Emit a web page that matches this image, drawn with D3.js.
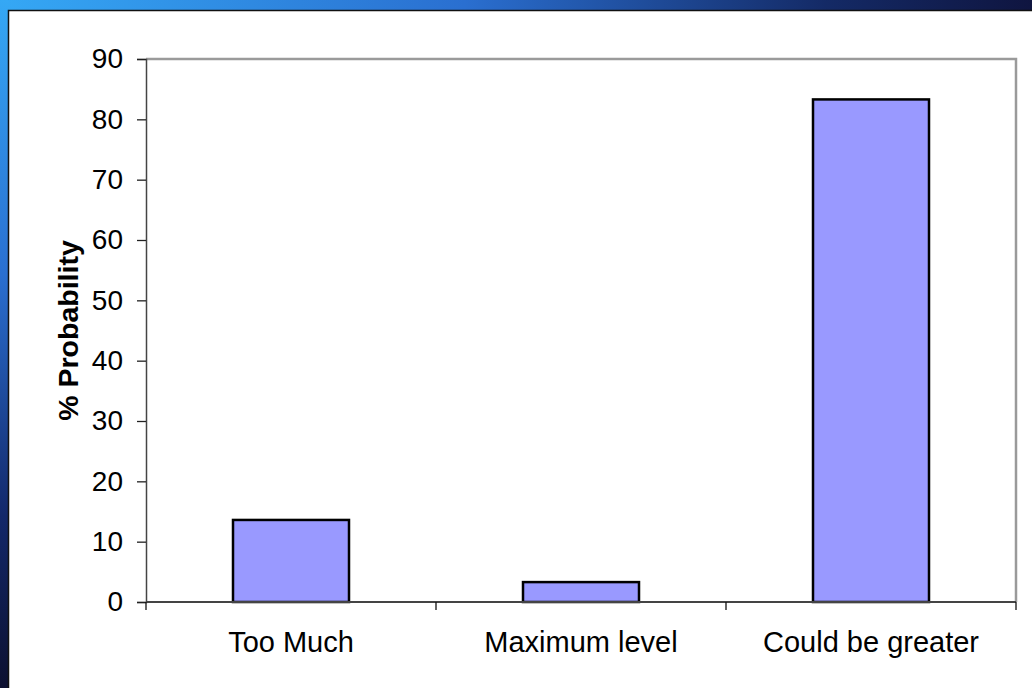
<!DOCTYPE html>
<html>
<head>
<meta charset="utf-8">
<script src="https://cdn.jsdelivr.net/npm/d3@7"></script>
<style>
  body { margin: 0; padding: 0; overflow: hidden; }
  svg { display: block; }
</style>
</head>
<body>
<div id="chart"></div>
<script>
// data
var categories = ["Too Much", "Maximum level", "Could be greater"];
var values = [13.6, 3.3, 83.3];
var yTicks = [0, 10, 20, 30, 40, 50, 60, 70, 80, 90];
var yLabel = "% Probability";

var width = 1032, height = 688;
var plot = {left: 146, top: 59, right: 1016, bottom: 602};

var svg = d3.select("#chart").append("svg")
  .attr("width", width)
  .attr("height", height);

// backdrop gradients
var defs = svg.append("defs");
var gTop = defs.append("linearGradient").attr("id", "gTop")
  .attr("x1", "0").attr("y1", "0").attr("x2", "1").attr("y2", "0");
gTop.append("stop").attr("offset", "0").attr("stop-color", "#35a8f5");
gTop.append("stop").attr("offset", "0.45").attr("stop-color", "#2a6fd0");
gTop.append("stop").attr("offset", "0.8").attr("stop-color", "#142a66");
gTop.append("stop").attr("offset", "1").attr("stop-color", "#0f1540");
var gLeft = defs.append("linearGradient").attr("id", "gLeft")
  .attr("x1", "0").attr("y1", "0").attr("x2", "0").attr("y2", "1");
gLeft.append("stop").attr("offset", "0").attr("stop-color", "#35a8f5");
gLeft.append("stop").attr("offset", "0.4").attr("stop-color", "#2a6fd0");
gLeft.append("stop").attr("offset", "0.75").attr("stop-color", "#13286a");
gLeft.append("stop").attr("offset", "1").attr("stop-color", "#0c1030");

svg.append("rect").attr("x", 0).attr("y", 0).attr("width", width).attr("height", 11)
  .attr("fill", "url(#gTop)");
svg.append("rect").attr("x", 0).attr("y", 0).attr("width", 9).attr("height", height)
  .attr("fill", "url(#gLeft)");

// white panel
svg.append("rect").attr("x", 8.5).attr("y", 10.5)
  .attr("width", width).attr("height", height)
  .attr("fill", "#ffffff").attr("stroke", "#111").attr("stroke-width", 1.5);

var x = d3.scaleBand()
  .domain(categories)
  .range([plot.left, plot.right])
  .paddingInner(0.6)
  .paddingOuter(0.3);

var y = d3.scaleLinear()
  .domain([0, 90])
  .range([plot.bottom, plot.top]);

// plot frame (top and right, grey)
svg.append("path")
  .attr("d", "M" + plot.left + "," + plot.top + "H" + plot.right + "V" + plot.bottom)
  .attr("fill", "none")
  .attr("stroke", "#9a9a9a")
  .attr("stroke-width", 2.5);

// bars
svg.selectAll("rect.bar").data(values).enter().append("rect")
  .attr("class", "bar")
  .attr("x", function(d, i) { return x(categories[i]); })
  .attr("width", x.bandwidth())
  .attr("y", function(d) { return y(d); })
  .attr("height", function(d) { return y(0) - y(d); })
  .attr("fill", "#9999ff")
  .attr("stroke", "#000")
  .attr("stroke-width", 2.5);

// y axis
var yAxis = d3.axisLeft(y).tickValues(yTicks).tickSize(9).tickPadding(14);
var gy = svg.append("g")
  .attr("transform", "translate(" + plot.left + ",0)")
  .call(yAxis);
gy.select(".domain").attr("stroke", "#444").attr("stroke-width", 1.5);
gy.selectAll(".tick line").attr("stroke", "#222").attr("stroke-width", 1.3);
gy.selectAll(".tick text")
  .attr("font-family", "Liberation Sans, Arial, sans-serif")
  .attr("font-size", 28)
  .attr("fill", "#000");

// x axis: ticks at band boundaries
var step = x.step();
var boundaries = [plot.left];
categories.forEach(function(c) { boundaries.push(x(c) - step * 0.3 + step); });
var gx = svg.append("g");
gx.append("line")
  .attr("x1", plot.left).attr("x2", plot.right)
  .attr("y1", plot.bottom).attr("y2", plot.bottom)
  .attr("stroke", "#444").attr("stroke-width", 2);
gx.selectAll("line.tk").data(boundaries).enter().append("line")
  .attr("class", "tk")
  .attr("x1", function(d) { return d; }).attr("x2", function(d) { return d; })
  .attr("y1", plot.bottom).attr("y2", plot.bottom + 8)
  .attr("stroke", "#111").attr("stroke-width", 1.3);
gx.selectAll("text").data(categories).enter().append("text")
  .attr("x", function(d) { return x(d) + x.bandwidth() / 2; })
  .attr("y", 652)
  .attr("text-anchor", "middle")
  .attr("font-family", "Liberation Sans, Arial, sans-serif")
  .attr("font-size", 29)
  .attr("fill", "#000")
  .text(function(d) { return d; });

// y label
svg.append("text")
  .attr("transform", "translate(78," + ((plot.top + plot.bottom) / 2) + ") rotate(-90)")
  .attr("text-anchor", "middle")
  .attr("font-family", "Liberation Sans, Arial, sans-serif")
  .attr("font-weight", "bold")
  .attr("font-size", 28.5)
  .attr("fill", "#000")
  .text(yLabel);
</script>
</body>
</html>
